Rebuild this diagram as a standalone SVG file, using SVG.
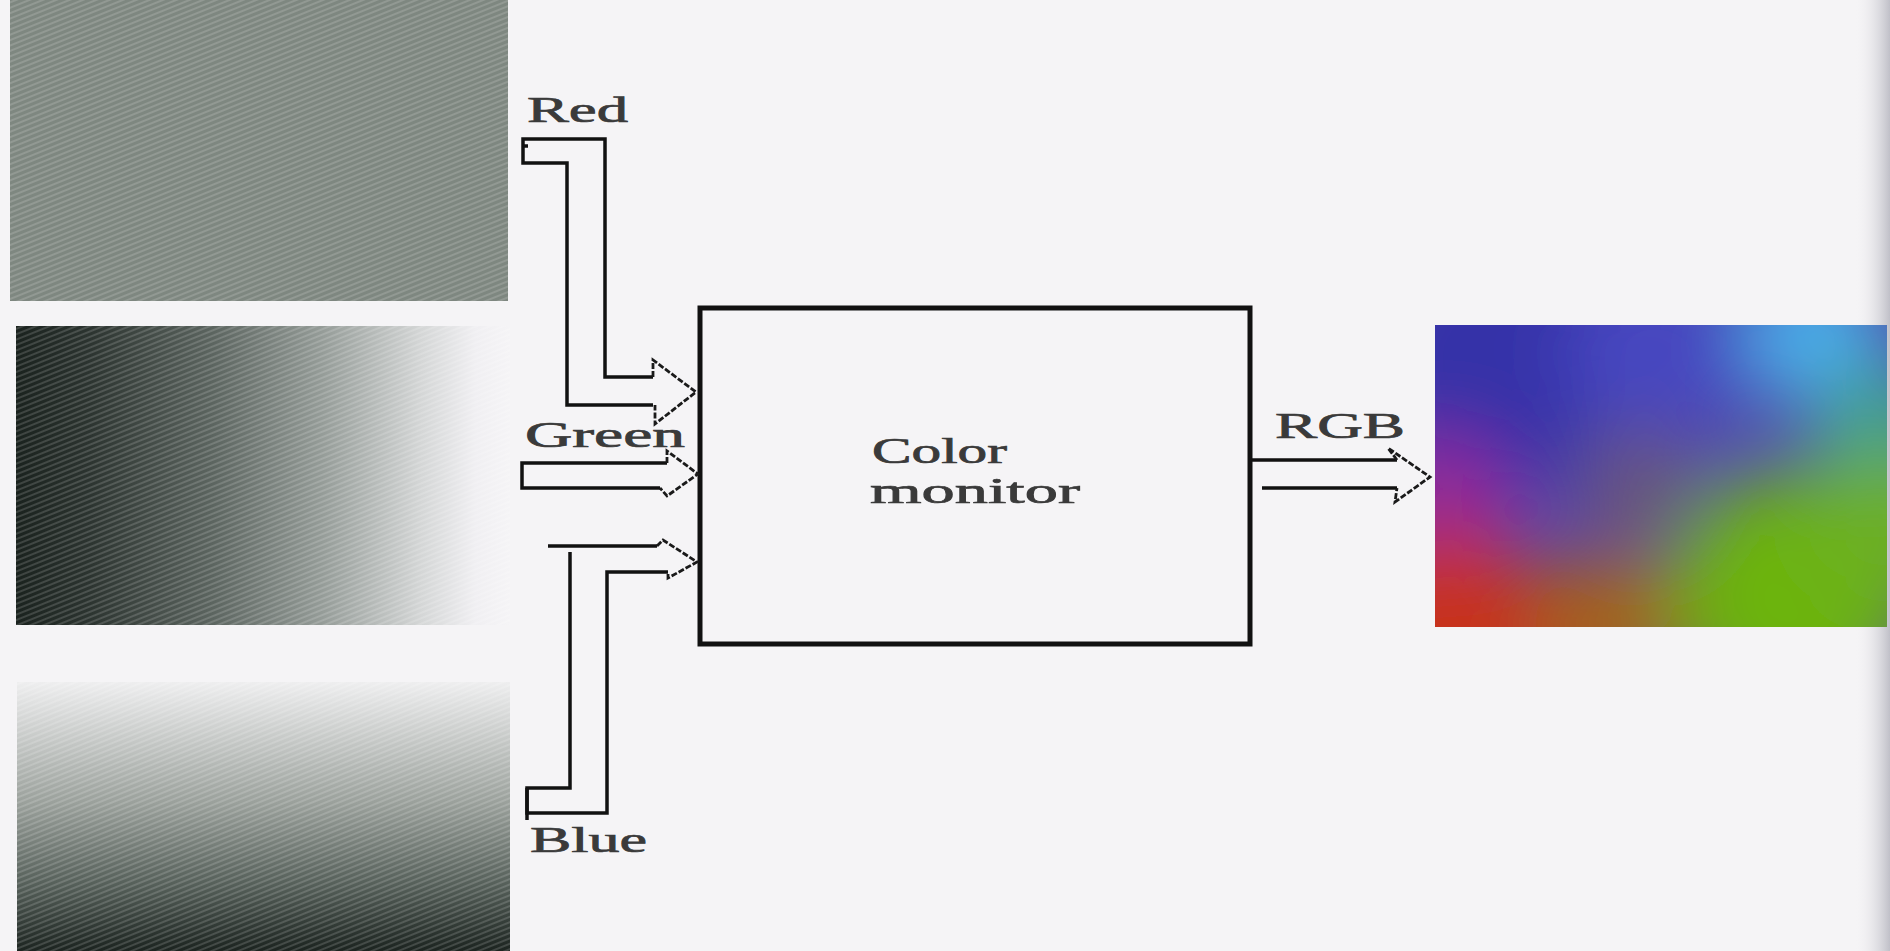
<svg xmlns="http://www.w3.org/2000/svg" width="1890" height="951" viewBox="0 0 1890 951">
  <defs>
    <style>
      .lbl { font-family: "Liberation Serif", "Times New Roman", serif; font-size: 35px; fill: #3a3a3a; stroke: #3a3a3a; stroke-width: 0.7; }
      .wire { fill: none; stroke: #111; stroke-width: 3.5; stroke-linejoin: miter; }
      .barb { fill: none; stroke: #1a1a1a; stroke-width: 2.8; stroke-dasharray: 6 2; }
      .box { fill: none; stroke: #111; stroke-width: 5; }
    </style>
    <linearGradient id="gMid" x1="0" y1="0" x2="1" y2="0">
      <stop offset="0" stop-color="#1a221e"/>
      <stop offset="0.15" stop-color="#2c3430"/>
      <stop offset="0.4" stop-color="#5c6560"/>
      <stop offset="0.62" stop-color="#959c98"/>
      <stop offset="0.82" stop-color="#d4d6d6"/>
      <stop offset="0.93" stop-color="#f0eff2"/>
      <stop offset="1" stop-color="#f5f4f6"/>
    </linearGradient>
    <linearGradient id="gBot" x1="0" y1="0" x2="0" y2="1">
      <stop offset="0" stop-color="#eeeeef"/>
      <stop offset="0.15" stop-color="#d2d4d3"/>
      <stop offset="0.45" stop-color="#9aa09b"/>
      <stop offset="0.75" stop-color="#56605a"/>
      <stop offset="1" stop-color="#1c2420"/>
    </linearGradient>
    <linearGradient id="gEdge" x1="0" y1="0" x2="1" y2="0">
      <stop offset="0" stop-color="#f4f3f5" stop-opacity="0"/>
      <stop offset="1" stop-color="#c0c0c8"/>
    </linearGradient>
    <pattern id="hatch" patternUnits="userSpaceOnUse" width="6" height="5" patternTransform="rotate(-22)">
      <line x1="0" y1="1" x2="6" y2="1" stroke="#ffffff" stroke-opacity="0.2" stroke-width="1.5"/>
    </pattern>
    <clipPath id="cImg">
      <rect x="1435" y="325" width="452" height="302"/>
    </clipPath>
    <filter id="blur" x="-50%" y="-50%" width="200%" height="200%">
      <feGaussianBlur stdDeviation="38"/>
    </filter>
  </defs>

  <rect x="0" y="0" width="1890" height="951" fill="#f5f4f6"/>
  <rect x="1855" y="0" width="35" height="951" fill="url(#gEdge)"/>

  <g id="panel-red">
    <rect x="10" y="0" width="498" height="301" fill="#7e8780"/>
    <rect x="10" y="0" width="498" height="301" fill="url(#hatch)"/>
  </g>
  <g id="panel-green">
    <rect x="16" y="326" width="494" height="299" fill="url(#gMid)"/>
    <rect x="16" y="326" width="494" height="299" fill="url(#hatch)"/>
  </g>
  <g id="panel-blue">
    <rect x="17" y="682" width="493" height="269" fill="url(#gBot)"/>
    <rect x="17" y="682" width="493" height="269" fill="url(#hatch)"/>
  </g>

  <g id="monitor">
    <rect class="box" x="700" y="308" width="550" height="336"/>
    <text class="lbl" x="872" y="463" textLength="135" lengthAdjust="spacingAndGlyphs">Color</text>
    <text class="lbl" x="870" y="503" textLength="210" lengthAdjust="spacingAndGlyphs">monitor</text>
  </g>

  <g id="rgb-image">
    <g clip-path="url(#cImg)">
      <rect x="1435" y="325" width="452" height="302" fill="#5446a6"/>
      <g filter="url(#blur)">
        <circle cx="1490" cy="360" r="130" fill="#3430a8"/>
        <circle cx="1660" cy="350" r="95" fill="#4646c0"/>
        <circle cx="1815" cy="335" r="70" fill="#48b0ec"/>
        <circle cx="1880" cy="430" r="70" fill="#40a090"/>
        <circle cx="1440" cy="505" r="70" fill="#92289a"/>
        <circle cx="1450" cy="635" r="105" fill="#c8301c"/>
        <circle cx="1605" cy="625" r="70" fill="#a86418"/>
        <circle cx="1795" cy="595" r="125" fill="#6cb410"/>
        <circle cx="1890" cy="530" r="80" fill="#6cb020"/>
        <circle cx="1640" cy="485" r="55" fill="#6a5676"/>
      </g>
    </g>
  </g>

  <g id="labels">
    <text class="lbl" x="527" y="122" textLength="101" lengthAdjust="spacingAndGlyphs">Red</text>
    <text class="lbl" x="525" y="447" textLength="160" lengthAdjust="spacingAndGlyphs">Green</text>
    <text class="lbl" x="530" y="852" textLength="117" lengthAdjust="spacingAndGlyphs">Blue</text>
    <text class="lbl" x="1275" y="438" textLength="130" lengthAdjust="spacingAndGlyphs">RGB</text>
  </g>

  <g id="connectors">
    <!-- Red -->
    <path class="wire" d="M653,377 H605 V139 H523 V163 H567 V405 H653"/>
    <path class="wire" d="M523,146 h5"/>
    <path class="barb" d="M653,377 V360 L696,392 L655,424 V405"/>
    <!-- Green -->
    <path class="wire" d="M667,463 H522 V488 H660"/>
    <path class="barb" d="M667,463 V451 L698,474 L667,496 L660,488"/>
    <!-- Blue -->
    <path class="wire" d="M657,546 H548"/>
    <path class="wire" d="M570,552 V788 H527 V813 H607 V572 H668"/>
    <path class="wire" d="M527,788 V820" stroke-width="4.5"/>
    <path class="barb" d="M657,546 L663,540 L697,562 L668,578 V572"/>
    <!-- RGB -->
    <path class="wire" d="M1250,460 H1397"/>
    <path class="wire" d="M1262,488 H1397"/>
    <path class="barb" d="M1397,460 L1388,448 L1430,477 L1395,502 L1397,488"/>
  </g>
</svg>
